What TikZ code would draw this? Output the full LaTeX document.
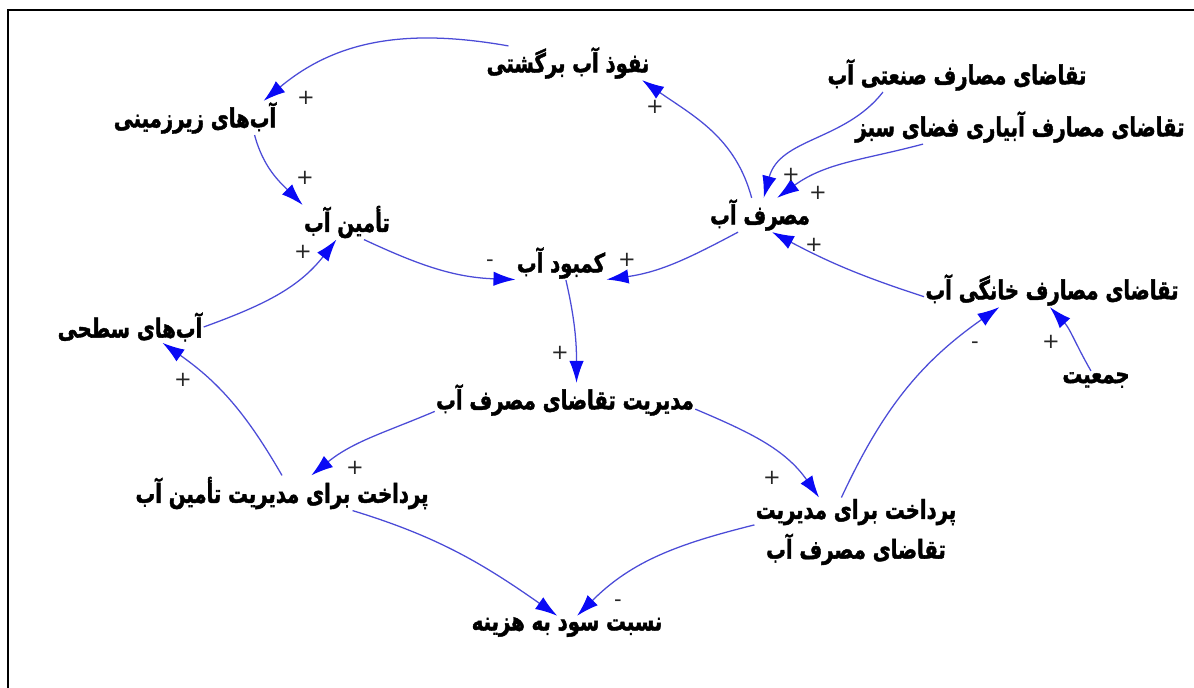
\documentclass[tikz,border=0pt]{standalone}
\usepackage{fontspec}
\usetikzlibrary{arrows.meta}
\newfontfamily\farsifont[Script=Arabic,FakeStretch=0.75,
  BoldFeatures={FakeBold=1.6}]{DejaVu Sans}
\newfontfamily\signfont{DejaVu Sans}
\TeXXeTstate=1
\newcommand{\fa}[1]{{\farsifont\bfseries\beginR #1\endR}}
\definecolor{linkblue}{RGB}{75,75,215}
\definecolor{headblue}{RGB}{10,10,245}

\begin{document}
\begin{tikzpicture}[x=0.025cm,y=0.025cm,
    var/.style={inner sep=1pt, outer sep=0pt, align=center,
      font=\fontsize{18.6}{21}\selectfont},
    link/.style={draw=linkblue, line width=0.9pt,
      -{Latex[length=5.5mm,width=3.6mm,color=headblue]}},
    sign/.style={inner sep=0pt, text=black!85,
      font=\signfont\fontsize{15}{15}\selectfont}]

      \useasboundingbox (0,0) rectangle (1194,-688);

      % frame
      \draw [line width=2pt] (8,-688) -- (8,-10) -- (1194,-10);

      % variables
      \node [var] (nofuz) at (568,-63) {\fa{نفوذ آب برگشتی}};
      \node [var] (zir) at (195,-118) {\fa{آب‌های زیرزمینی}};
      \node [var] (tamin) at (347,-222) {\fa{تأمین آب}};
      \node [var] (kambud) at (561,-263) {\fa{کمبود آب}};
      \node [var] (masraf) at (760,-215) {\fa{مصرف آب}};
      \node [var] (sanati) at (957,-75) {\fa{تقاضای مصارف  صنعتی آب}};
      \node [var] (abyari) at (1020,-127) {\fa{تقاضای مصارف آبیاری فضای سبز}};
      \node [var] (khanegi) at (1052,-290) {\fa{تقاضای مصارف خانگی آب}};
      \node [var] (jamiyat) at (1096,-380) {\fa{جمعیت}};
      \node [var] (sathi) at (130,-327) {\fa{آب‌های سطحی}};
      \node [var] (modiriat) at (565,-400) {\fa{مدیریت تقاضای مصرف آب}};
      \node [var] (ptamin) at (282,-493) {\fa{پرداخت برای مدیریت تأمین آب}};
      \node [var] (ptaghaza) at (856,-532)
      {\fa{پرداخت برای مدیریت}\\[5pt]\fa{تقاضای مصرف آب}};
      \node [var] (nesbat) at (567,-627) {\fa{نسبت سود به هزینه}};

      % links
      \draw [link] (nofuz.164) to[out=170,in=40] (zir.14);
      \draw [link] (zir.344) to[out=-75,in=135] (tamin.159);
      \draw [link] (sathi.0) to[out=20,in=232] (tamin.239);
      \draw [link] (tamin.314) to[out=-25,in=178] (kambud.200);
      \draw [link] (masraf.218) to[out=208,in=8] (kambud.340);
      \draw [link] (masraf.116) to[out=105,in=-35] (nofuz.347);
      \draw [link] (sanati.193) to[out=232,in=75] (masraf.78);
      \draw [link] (abyari.190) to[out=195,in=36] (masraf.45);
      \draw [link] (khanegi.183) to[out=162,in=-28] (masraf.305);
      \draw [link] (jamiyat.119) to[out=120,in=-47] (khanegi.263);
      \draw [link] (kambud.286) to[out=-77,in=90] (modiriat.56);
      \draw [link] (modiriat.185) to[out=203,in=39] (ptamin.31);
      \draw [link] (modiriat.356) to[out=-23,in=125] (ptaghaza.137);
      \draw [link] (ptaghaza.113) to[out=65,in=215] (khanegi.198);
      \draw [link] (ptamin.90) to[out=120,in=-35] (sathi.334);
      \draw [link] (ptamin.346) to[out=-17,in=145] (nesbat.131);
      \draw [link] (ptaghaza.176) to[out=194,in=45] (nesbat.48);

      % polarities
      \node [sign] (s1) at (306,-98) {+};
      \node [sign] (s2) at (305,-178) {+};
      \node [sign] (s3) at (303,-252) {+};
      \node [sign] (s4) at (490,-263) {-};
      \node [sign] (s5) at (627,-260) {+};
      \node [sign] (s6) at (655,-107) {+};
      \node [sign] (s7) at (791,-175) {+};
      \node [sign] (s8) at (818,-193) {+};
      \node [sign] (s9) at (814,-245) {+};
      \node [sign] (s10) at (1051,-342) {+};
      \node [sign] (s11) at (560,-353) {+};
      \node [sign] (s12) at (355,-468) {+};
      \node [sign] (s13) at (772,-478) {+};
      \node [sign] (s14) at (975,-345) {-};
      \node [sign] (s15) at (183,-380) {+};
      \node [sign] (s16) at (618,-603) {-};

    \end{tikzpicture}
\end{document}
